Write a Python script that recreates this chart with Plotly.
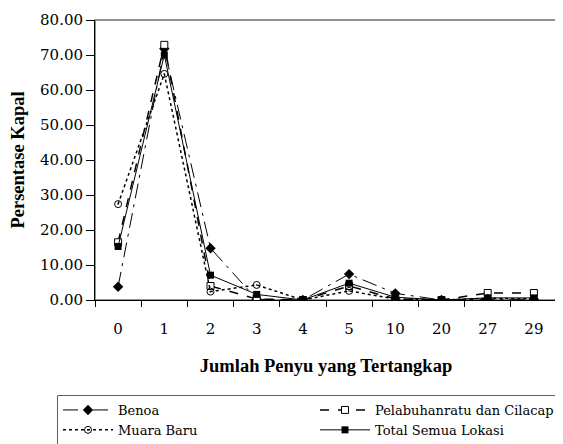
import plotly.graph_objects as go

categories = ["0", "1", "2", "3", "4", "5", "10", "20", "27", "29"]
benoa = [3.8, 71.8, 14.8, 0.2, 0.0, 7.4, 1.9, 0.0, 0.2, 0.2]
pelabuhanratu = [16.5, 72.9, 4.0, 0.3, 0.0, 4.0, 0.3, 0.0, 2.0, 2.0]
muara_baru = [27.4, 64.6, 2.4, 4.3, 0.0, 2.6, 0.3, 0.0, 0.5, 0.3]
total = [15.3, 70.0, 7.1, 1.6, 0.0, 4.8, 0.8, 0.0, 0.6, 0.6]
y_ticks = [0, 10, 20, 30, 40, 50, 60, 70, 80]

REG = "DejaVu Serif"
BOLD = "Liberation Serif"
fig = go.Figure()
fig.add_trace(go.Scatter(x=categories, y=benoa, name="Benoa", mode="lines+markers", legend="legend",
                         line=dict(color="black", width=1, dash="longdashdot"),
                         marker=dict(symbol="diamond", size=8, color="black")))
fig.add_trace(go.Scatter(x=categories, y=pelabuhanratu, name="Pelabuhanratu dan Cilacap", mode="lines+markers",
                         legend="legend2",
                         line=dict(color="black", width=1.5, dash="dash"),
                         marker=dict(symbol="square", size=7, color="white", line=dict(color="black", width=1))))
fig.add_trace(go.Scatter(x=categories, y=muara_baru, name="Muara Baru", mode="lines+markers", legend="legend",
                         line=dict(color="black", width=1.5, dash="dot"),
                         marker=dict(symbol="circle-open-dot", size=7, color="black", line=dict(width=1))))
fig.add_trace(go.Scatter(x=categories, y=total, name="Total Semua Lokasi", mode="lines+markers", legend="legend2",
                         line=dict(color="black", width=1),
                         marker=dict(symbol="square", size=7, color="black")))

OFF = 8  # page body margin
W, H = 563 - OFF, 444 - OFF
L, R, T, B = 95 - OFF, 6, 20 - OFF, 144
pw, ph = W - L - R, H - T - B

def py(p):
    return (T + ph - (p - OFF)) / ph

def px(p):
    return ((p - OFF) - L) / pw

leg_common = dict(orientation="v", xanchor="left", y=py(395), yanchor="top", itemwidth=50,
                  borderwidth=0, bgcolor="rgba(0,0,0,0)", font=dict(family=REG, size=13),
                  tracegroupgap=0)

fig.update_layout(
    width=W, height=H,
    margin=dict(l=L, r=R, t=T, b=B, autoexpand=False),
    paper_bgcolor="white", plot_bgcolor="white",
    font=dict(family=REG, size=15, color="black"),
    xaxis=dict(type="category", range=[-0.5, 9.5], ticks="outside", tickson="boundaries",
               ticklen=6, tickcolor="black", showline=True, linecolor="black", linewidth=1,
               showgrid=False, zeroline=False, tickfont=dict(family=REG, size=15),
               ticklabelstandoff=15,
               title=dict(text="<b>Jumlah Penyu yang Tertangkap</b>", font=dict(family=BOLD, size=18.5), standoff=22)),
    yaxis=dict(range=[0, 80], tickvals=y_ticks, tickformat=".2f", ticks="outside", ticklen=8,
               tickcolor="black", showline=True, linecolor="black", linewidth=1,
               showgrid=False, zeroline=False, tickfont=dict(family=REG, size=15),
               title=dict(text="<b>Persentase Kapal</b>", font=dict(family=BOLD, size=18.5), standoff=15)),
    legend=dict(x=px(58), **leg_common),
    legend2=dict(x=px(315), **leg_common),
    showlegend=True,
)
fig.add_shape(type="rect", xref="paper", yref="paper", x0=0, y0=0, x1=1, y1=1,
              line=dict(color="#707070", width=1.5), layer="below")
fig.add_shape(type="rect", xref="paper", yref="paper",
              x0=px(57.5), x1=px(575), y0=py(460), y1=py(395.5),
              line=dict(color="#606060", width=1), layer="below")
fig.write_html("out.html")
